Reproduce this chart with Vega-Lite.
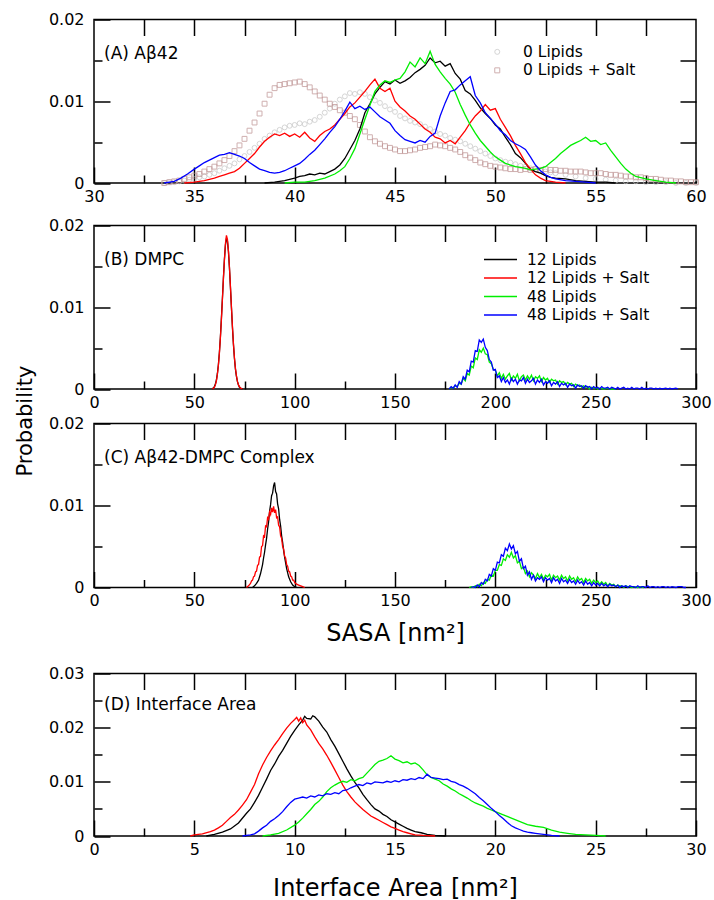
{
"$schema": "https://vega.github.io/schema/vega-lite/v6.json",
"padding": {"left": 13, "top": 10.5, "right": 5, "bottom": 2},
"config": {
  "font": "DejaVu Sans",
  "view": {"stroke": "#000000", "strokeWidth": 1.5},
  "axis": {"domain": false, "grid": false, "tickColor": "#000000", "tickWidth": 1.5, "labelColor": "#000000", "labelFontSize": 16, "labelFont": "DejaVu Sans", "titleFont": "DejaVu Sans", "titleFontSize": 24, "titleFontWeight": "normal", "titleColor": "#000000", "labelFlush": false, "labelOverlap": false},
  "legend": {"labelFont": "DejaVu Sans", "labelFontSize": 15.5, "labelColor": "#000000"},
  "text": {"font": "DejaVu Sans"}
},
"datasets": {
"a": [
{"s":"k","x":38.5,"y":0},{"s":"k","x":39,"y":0.0001},{"s":"k","x":39.5,"y":0.0003},{"s":"k","x":40,"y":0.0006},{"s":"k","x":40.25,"y":0.0008},{"s":"k","x":40.5,"y":0.0009},{"s":"k","x":40.75,"y":0.0011},{"s":"k","x":41,"y":0.001},{"s":"k","x":41.25,"y":0.0012},{"s":"k","x":41.5,"y":0.0011},{"s":"k","x":41.75,"y":0.0014},{"s":"k","x":42,"y":0.0017},{"s":"k","x":42.25,"y":0.0022},{"s":"k","x":42.5,"y":0.003},{"s":"k","x":42.75,"y":0.0041},{"s":"k","x":43,"y":0.0052},{"s":"k","x":43.25,"y":0.0066},{"s":"k","x":43.5,"y":0.0086},{"s":"k","x":43.75,"y":0.0097},{"s":"k","x":44,"y":0.0109},{"s":"k","x":44.25,"y":0.0117},{"s":"k","x":44.5,"y":0.0124},{"s":"k","x":44.75,"y":0.0121},{"s":"k","x":45,"y":0.0126},{"s":"k","x":45.25,"y":0.0122},{"s":"k","x":45.5,"y":0.0125},{"s":"k","x":45.75,"y":0.0129},{"s":"k","x":46,"y":0.0135},{"s":"k","x":46.25,"y":0.0139},{"s":"k","x":46.5,"y":0.0144},{"s":"k","x":46.75,"y":0.0153},{"s":"k","x":47,"y":0.0147},{"s":"k","x":47.25,"y":0.0149},{"s":"k","x":47.5,"y":0.0143},{"s":"k","x":47.75,"y":0.0146},{"s":"k","x":48,"y":0.0134},{"s":"k","x":48.25,"y":0.0127},{"s":"k","x":48.5,"y":0.0113},{"s":"k","x":48.75,"y":0.0109},{"s":"k","x":49,"y":0.0101},{"s":"k","x":49.25,"y":0.0092},{"s":"k","x":49.5,"y":0.0085},{"s":"k","x":49.75,"y":0.0079},{"s":"k","x":50,"y":0.0071},{"s":"k","x":50.25,"y":0.0066},{"s":"k","x":50.5,"y":0.0056},{"s":"k","x":50.75,"y":0.0047},{"s":"k","x":51,"y":0.0036},{"s":"k","x":51.25,"y":0.0031},{"s":"k","x":51.5,"y":0.0024},{"s":"k","x":51.75,"y":0.0017},{"s":"k","x":52,"y":0.0014},{"s":"k","x":52.25,"y":0.0012},{"s":"k","x":52.5,"y":0.0009},{"s":"k","x":52.75,"y":0.0007},{"s":"k","x":53,"y":0.0006},{"s":"k","x":53.5,"y":0.0005},{"s":"k","x":54,"y":0.0003},{"s":"k","x":54.5,"y":0.0002},{"s":"k","x":55,"y":0.0001},{"s":"k","x":55.5,"y":0.0001},{"s":"k","x":56,"y":0},
{"s":"r","x":34.5,"y":0},{"s":"r","x":35,"y":0.0001},{"s":"r","x":35.5,"y":0.0003},{"s":"r","x":36,"y":0.0006},{"s":"r","x":36.25,"y":0.0008},{"s":"r","x":36.5,"y":0.001},{"s":"r","x":36.75,"y":0.0012},{"s":"r","x":37,"y":0.0014},{"s":"r","x":37.25,"y":0.0018},{"s":"r","x":37.5,"y":0.0024},{"s":"r","x":37.75,"y":0.003},{"s":"r","x":38,"y":0.0036},{"s":"r","x":38.25,"y":0.0044},{"s":"r","x":38.5,"y":0.0051},{"s":"r","x":38.75,"y":0.0056},{"s":"r","x":39,"y":0.006},{"s":"r","x":39.25,"y":0.0058},{"s":"r","x":39.5,"y":0.0061},{"s":"r","x":39.75,"y":0.0057},{"s":"r","x":40,"y":0.006},{"s":"r","x":40.25,"y":0.0056},{"s":"r","x":40.5,"y":0.0062},{"s":"r","x":40.75,"y":0.0055},{"s":"r","x":41,"y":0.0051},{"s":"r","x":41.25,"y":0.0058},{"s":"r","x":41.5,"y":0.0063},{"s":"r","x":41.75,"y":0.0066},{"s":"r","x":42,"y":0.0071},{"s":"r","x":42.25,"y":0.0078},{"s":"r","x":42.5,"y":0.0085},{"s":"r","x":42.75,"y":0.0093},{"s":"r","x":43,"y":0.0098},{"s":"r","x":43.25,"y":0.0105},{"s":"r","x":43.5,"y":0.0112},{"s":"r","x":43.75,"y":0.012},{"s":"r","x":44,"y":0.0127},{"s":"r","x":44.25,"y":0.0116},{"s":"r","x":44.5,"y":0.0112},{"s":"r","x":44.75,"y":0.0116},{"s":"r","x":45,"y":0.01},{"s":"r","x":45.25,"y":0.0093},{"s":"r","x":45.5,"y":0.0088},{"s":"r","x":45.75,"y":0.0082},{"s":"r","x":46,"y":0.0078},{"s":"r","x":46.25,"y":0.0072},{"s":"r","x":46.5,"y":0.0066},{"s":"r","x":46.75,"y":0.0062},{"s":"r","x":47,"y":0.0056},{"s":"r","x":47.25,"y":0.0054},{"s":"r","x":47.5,"y":0.0049},{"s":"r","x":47.75,"y":0.0052},{"s":"r","x":48,"y":0.0048},{"s":"r","x":48.25,"y":0.0056},{"s":"r","x":48.5,"y":0.0064},{"s":"r","x":48.75,"y":0.0074},{"s":"r","x":49,"y":0.0082},{"s":"r","x":49.25,"y":0.0088},{"s":"r","x":49.5,"y":0.0096},{"s":"r","x":49.75,"y":0.0089},{"s":"r","x":50,"y":0.0091},{"s":"r","x":50.25,"y":0.0078},{"s":"r","x":50.5,"y":0.0068},{"s":"r","x":50.75,"y":0.0058},{"s":"r","x":51,"y":0.0046},{"s":"r","x":51.25,"y":0.0036},{"s":"r","x":51.5,"y":0.0025},{"s":"r","x":51.75,"y":0.0017},{"s":"r","x":52,"y":0.001},{"s":"r","x":52.25,"y":0.0006},{"s":"r","x":52.5,"y":0.0003},{"s":"r","x":53,"y":0.0001},{"s":"r","x":53.5,"y":0},
{"s":"g","x":39.5,"y":0},{"s":"g","x":40,"y":0.0001},{"s":"g","x":40.5,"y":0.0001},{"s":"g","x":41,"y":0.0003},{"s":"g","x":41.5,"y":0.0006},{"s":"g","x":42,"y":0.0011},{"s":"g","x":42.25,"y":0.0015},{"s":"g","x":42.5,"y":0.002},{"s":"g","x":42.75,"y":0.003},{"s":"g","x":43,"y":0.0042},{"s":"g","x":43.25,"y":0.006},{"s":"g","x":43.5,"y":0.0078},{"s":"g","x":43.75,"y":0.0095},{"s":"g","x":44,"y":0.0112},{"s":"g","x":44.25,"y":0.012},{"s":"g","x":44.5,"y":0.0125},{"s":"g","x":44.75,"y":0.0123},{"s":"g","x":45,"y":0.0126},{"s":"g","x":45.25,"y":0.0128},{"s":"g","x":45.5,"y":0.0136},{"s":"g","x":45.75,"y":0.0148},{"s":"g","x":46,"y":0.0142},{"s":"g","x":46.25,"y":0.0153},{"s":"g","x":46.5,"y":0.0146},{"s":"g","x":46.75,"y":0.0161},{"s":"g","x":47,"y":0.0145},{"s":"g","x":47.25,"y":0.0136},{"s":"g","x":47.5,"y":0.0128},{"s":"g","x":47.75,"y":0.0121},{"s":"g","x":48,"y":0.0111},{"s":"g","x":48.25,"y":0.0096},{"s":"g","x":48.5,"y":0.0083},{"s":"g","x":48.75,"y":0.0071},{"s":"g","x":49,"y":0.0061},{"s":"g","x":49.25,"y":0.0052},{"s":"g","x":49.5,"y":0.0045},{"s":"g","x":49.75,"y":0.0038},{"s":"g","x":50,"y":0.0032},{"s":"g","x":50.25,"y":0.0028},{"s":"g","x":50.5,"y":0.0024},{"s":"g","x":50.75,"y":0.0022},{"s":"g","x":51,"y":0.002},{"s":"g","x":51.25,"y":0.0019},{"s":"g","x":51.5,"y":0.0018},{"s":"g","x":51.75,"y":0.0016},{"s":"g","x":52,"y":0.0017},{"s":"g","x":52.25,"y":0.0018},{"s":"g","x":52.5,"y":0.002},{"s":"g","x":52.75,"y":0.0025},{"s":"g","x":53,"y":0.003},{"s":"g","x":53.25,"y":0.0036},{"s":"g","x":53.5,"y":0.0041},{"s":"g","x":53.75,"y":0.0046},{"s":"g","x":54,"y":0.0049},{"s":"g","x":54.25,"y":0.0052},{"s":"g","x":54.5,"y":0.0056},{"s":"g","x":54.75,"y":0.0051},{"s":"g","x":55,"y":0.0052},{"s":"g","x":55.25,"y":0.0047},{"s":"g","x":55.5,"y":0.0049},{"s":"g","x":55.75,"y":0.004},{"s":"g","x":56,"y":0.0032},{"s":"g","x":56.25,"y":0.0024},{"s":"g","x":56.5,"y":0.0017},{"s":"g","x":56.75,"y":0.0012},{"s":"g","x":57,"y":0.0008},{"s":"g","x":57.5,"y":0.0005},{"s":"g","x":58,"y":0.0003},{"s":"g","x":58.5,"y":0.0001},{"s":"g","x":59,"y":0},
{"s":"b","x":33.5,"y":0},{"s":"b","x":34,"y":0.0002},{"s":"b","x":34.33,"y":0.0006},{"s":"b","x":34.66,"y":0.0011},{"s":"b","x":35,"y":0.0017},{"s":"b","x":35.25,"y":0.0021},{"s":"b","x":35.5,"y":0.0025},{"s":"b","x":35.75,"y":0.0028},{"s":"b","x":36,"y":0.0031},{"s":"b","x":36.25,"y":0.0034},{"s":"b","x":36.5,"y":0.0035},{"s":"b","x":36.75,"y":0.0037},{"s":"b","x":37,"y":0.0035},{"s":"b","x":37.25,"y":0.0033},{"s":"b","x":37.5,"y":0.003},{"s":"b","x":37.75,"y":0.0025},{"s":"b","x":38,"y":0.0021},{"s":"b","x":38.25,"y":0.0017},{"s":"b","x":38.5,"y":0.0015},{"s":"b","x":38.75,"y":0.0013},{"s":"b","x":39,"y":0.0012},{"s":"b","x":39.25,"y":0.0013},{"s":"b","x":39.5,"y":0.0015},{"s":"b","x":39.75,"y":0.0018},{"s":"b","x":40,"y":0.0021},{"s":"b","x":40.25,"y":0.0024},{"s":"b","x":40.5,"y":0.0029},{"s":"b","x":40.75,"y":0.0035},{"s":"b","x":41,"y":0.004},{"s":"b","x":41.25,"y":0.0047},{"s":"b","x":41.5,"y":0.0054},{"s":"b","x":41.75,"y":0.0062},{"s":"b","x":42,"y":0.0069},{"s":"b","x":42.25,"y":0.0078},{"s":"b","x":42.5,"y":0.0088},{"s":"b","x":42.75,"y":0.0099},{"s":"b","x":43,"y":0.0091},{"s":"b","x":43.25,"y":0.0094},{"s":"b","x":43.5,"y":0.009},{"s":"b","x":43.75,"y":0.0093},{"s":"b","x":44,"y":0.0087},{"s":"b","x":44.25,"y":0.0081},{"s":"b","x":44.5,"y":0.0077},{"s":"b","x":44.75,"y":0.0073},{"s":"b","x":45,"y":0.0064},{"s":"b","x":45.25,"y":0.0058},{"s":"b","x":45.5,"y":0.0053},{"s":"b","x":45.75,"y":0.0051},{"s":"b","x":46,"y":0.0049},{"s":"b","x":46.25,"y":0.0052},{"s":"b","x":46.5,"y":0.005},{"s":"b","x":46.75,"y":0.0057},{"s":"b","x":47,"y":0.0061},{"s":"b","x":47.25,"y":0.0082},{"s":"b","x":47.5,"y":0.0098},{"s":"b","x":47.75,"y":0.0112},{"s":"b","x":48,"y":0.0114},{"s":"b","x":48.25,"y":0.012},{"s":"b","x":48.5,"y":0.0125},{"s":"b","x":48.75,"y":0.013},{"s":"b","x":49,"y":0.0107},{"s":"b","x":49.25,"y":0.0098},{"s":"b","x":49.5,"y":0.0086},{"s":"b","x":49.75,"y":0.0079},{"s":"b","x":50,"y":0.0072},{"s":"b","x":50.25,"y":0.0064},{"s":"b","x":50.5,"y":0.0059},{"s":"b","x":50.75,"y":0.0052},{"s":"b","x":51,"y":0.0048},{"s":"b","x":51.25,"y":0.0045},{"s":"b","x":51.5,"y":0.0041},{"s":"b","x":51.75,"y":0.0032},{"s":"b","x":52,"y":0.0022},{"s":"b","x":52.25,"y":0.0015},{"s":"b","x":52.5,"y":0.001},{"s":"b","x":52.75,"y":0.0007},{"s":"b","x":53,"y":0.0005},{"s":"b","x":53.5,"y":0.0003},{"s":"b","x":54,"y":0.0002},{"s":"b","x":54.5,"y":0.0001},{"s":"b","x":55,"y":0}
],
"ap": [
{"s":"c","x":33.5,"y":0},{"s":"c","x":33.75,"y":0.0001},{"s":"c","x":34,"y":0.0001},{"s":"c","x":34.25,"y":0.0002},{"s":"c","x":34.5,"y":0.0003},{"s":"c","x":34.75,"y":0.0004},{"s":"c","x":35,"y":0.0005},{"s":"c","x":35.25,"y":0.0007},{"s":"c","x":35.5,"y":0.0008},{"s":"c","x":35.75,"y":0.001},{"s":"c","x":36,"y":0.0012},{"s":"c","x":36.25,"y":0.0015},{"s":"c","x":36.5,"y":0.0018},{"s":"c","x":36.75,"y":0.0021},{"s":"c","x":37,"y":0.0024},{"s":"c","x":37.25,"y":0.0029},{"s":"c","x":37.5,"y":0.0033},{"s":"c","x":37.75,"y":0.0038},{"s":"c","x":38,"y":0.0043},{"s":"c","x":38.25,"y":0.0048},{"s":"c","x":38.5,"y":0.0054},{"s":"c","x":38.75,"y":0.0058},{"s":"c","x":39,"y":0.0062},{"s":"c","x":39.25,"y":0.0065},{"s":"c","x":39.5,"y":0.0068},{"s":"c","x":39.75,"y":0.007},{"s":"c","x":40,"y":0.0071},{"s":"c","x":40.25,"y":0.0073},{"s":"c","x":40.5,"y":0.0072},{"s":"c","x":40.75,"y":0.0075},{"s":"c","x":41,"y":0.0077},{"s":"c","x":41.25,"y":0.0081},{"s":"c","x":41.5,"y":0.0086},{"s":"c","x":41.75,"y":0.0091},{"s":"c","x":42,"y":0.0097},{"s":"c","x":42.25,"y":0.0102},{"s":"c","x":42.5,"y":0.0106},{"s":"c","x":42.75,"y":0.011},{"s":"c","x":43,"y":0.0109},{"s":"c","x":43.25,"y":0.0111},{"s":"c","x":43.5,"y":0.0109},{"s":"c","x":43.75,"y":0.0105},{"s":"c","x":44,"y":0.0101},{"s":"c","x":44.25,"y":0.0098},{"s":"c","x":44.5,"y":0.0094},{"s":"c","x":44.75,"y":0.009},{"s":"c","x":45,"y":0.0087},{"s":"c","x":45.25,"y":0.0082},{"s":"c","x":45.5,"y":0.0079},{"s":"c","x":45.75,"y":0.0076},{"s":"c","x":46,"y":0.0074},{"s":"c","x":46.25,"y":0.0072},{"s":"c","x":46.5,"y":0.0069},{"s":"c","x":46.75,"y":0.0066},{"s":"c","x":47,"y":0.0063},{"s":"c","x":47.25,"y":0.006},{"s":"c","x":47.5,"y":0.0058},{"s":"c","x":47.75,"y":0.0055},{"s":"c","x":48,"y":0.0053},{"s":"c","x":48.25,"y":0.0051},{"s":"c","x":48.5,"y":0.0048},{"s":"c","x":48.75,"y":0.0045},{"s":"c","x":49,"y":0.0042},{"s":"c","x":49.25,"y":0.0039},{"s":"c","x":49.5,"y":0.0036},{"s":"c","x":49.75,"y":0.0033},{"s":"c","x":50,"y":0.003},{"s":"c","x":50.25,"y":0.0028},{"s":"c","x":50.5,"y":0.0026},{"s":"c","x":50.75,"y":0.0025},{"s":"c","x":51,"y":0.0023},{"s":"c","x":51.25,"y":0.0021},{"s":"c","x":51.5,"y":0.002},{"s":"c","x":51.75,"y":0.0018},{"s":"c","x":52,"y":0.0017},{"s":"c","x":52.25,"y":0.0015},{"s":"c","x":52.5,"y":0.0014},{"s":"c","x":52.75,"y":0.0013},{"s":"c","x":53,"y":0.0012},{"s":"c","x":53.5,"y":0.001},{"s":"c","x":54,"y":0.0008},{"s":"c","x":54.5,"y":0.0006},{"s":"c","x":55,"y":0.0005},{"s":"c","x":55.5,"y":0.0004},{"s":"c","x":56,"y":0.0003},{"s":"c","x":56.5,"y":0.0002},{"s":"c","x":57,"y":0.0002},{"s":"c","x":57.5,"y":0.0001},{"s":"c","x":58,"y":0.0001},{"s":"c","x":58.5,"y":0.0001},{"s":"c","x":59,"y":0},{"s":"c","x":59.5,"y":0},{"s":"c","x":60,"y":0},
{"s":"q","x":33.5,"y":0},{"s":"q","x":33.75,"y":0.0001},{"s":"q","x":34,"y":0.0002},{"s":"q","x":34.25,"y":0.0003},{"s":"q","x":34.5,"y":0.0005},{"s":"q","x":34.75,"y":0.0007},{"s":"q","x":35,"y":0.0009},{"s":"q","x":35.25,"y":0.0011},{"s":"q","x":35.5,"y":0.0014},{"s":"q","x":35.75,"y":0.0017},{"s":"q","x":36,"y":0.002},{"s":"q","x":36.25,"y":0.0024},{"s":"q","x":36.5,"y":0.0028},{"s":"q","x":36.75,"y":0.0033},{"s":"q","x":37,"y":0.0039},{"s":"q","x":37.25,"y":0.0046},{"s":"q","x":37.5,"y":0.0054},{"s":"q","x":37.75,"y":0.0064},{"s":"q","x":38,"y":0.0074},{"s":"q","x":38.25,"y":0.0085},{"s":"q","x":38.5,"y":0.0097},{"s":"q","x":38.75,"y":0.0108},{"s":"q","x":39,"y":0.0116},{"s":"q","x":39.25,"y":0.012},{"s":"q","x":39.5,"y":0.0121},{"s":"q","x":39.75,"y":0.0122},{"s":"q","x":40,"y":0.0123},{"s":"q","x":40.25,"y":0.0124},{"s":"q","x":40.5,"y":0.0121},{"s":"q","x":40.75,"y":0.0117},{"s":"q","x":41,"y":0.0112},{"s":"q","x":41.25,"y":0.0107},{"s":"q","x":41.5,"y":0.0102},{"s":"q","x":41.75,"y":0.0097},{"s":"q","x":42,"y":0.0093},{"s":"q","x":42.25,"y":0.0089},{"s":"q","x":42.5,"y":0.0086},{"s":"q","x":42.75,"y":0.0082},{"s":"q","x":43,"y":0.0078},{"s":"q","x":43.25,"y":0.0071},{"s":"q","x":43.5,"y":0.0063},{"s":"q","x":43.75,"y":0.0056},{"s":"q","x":44,"y":0.0051},{"s":"q","x":44.25,"y":0.0048},{"s":"q","x":44.5,"y":0.0045},{"s":"q","x":44.75,"y":0.0043},{"s":"q","x":45,"y":0.0041},{"s":"q","x":45.25,"y":0.0039},{"s":"q","x":45.5,"y":0.0039},{"s":"q","x":45.75,"y":0.004},{"s":"q","x":46,"y":0.0041},{"s":"q","x":46.25,"y":0.0043},{"s":"q","x":46.5,"y":0.0044},{"s":"q","x":46.75,"y":0.0045},{"s":"q","x":47,"y":0.0047},{"s":"q","x":47.25,"y":0.0046},{"s":"q","x":47.5,"y":0.0045},{"s":"q","x":47.75,"y":0.0043},{"s":"q","x":48,"y":0.0041},{"s":"q","x":48.25,"y":0.0038},{"s":"q","x":48.5,"y":0.0034},{"s":"q","x":48.75,"y":0.0031},{"s":"q","x":49,"y":0.0028},{"s":"q","x":49.25,"y":0.0025},{"s":"q","x":49.5,"y":0.0023},{"s":"q","x":49.75,"y":0.0021},{"s":"q","x":50,"y":0.002},{"s":"q","x":50.25,"y":0.0019},{"s":"q","x":50.5,"y":0.0018},{"s":"q","x":50.75,"y":0.0017},{"s":"q","x":51,"y":0.0017},{"s":"q","x":51.25,"y":0.0016},{"s":"q","x":51.5,"y":0.0017},{"s":"q","x":51.75,"y":0.0016},{"s":"q","x":52,"y":0.0017},{"s":"q","x":52.25,"y":0.0016},{"s":"q","x":52.5,"y":0.0017},{"s":"q","x":52.75,"y":0.0016},{"s":"q","x":53,"y":0.0016},{"s":"q","x":53.25,"y":0.0015},{"s":"q","x":53.5,"y":0.0015},{"s":"q","x":53.75,"y":0.0014},{"s":"q","x":54,"y":0.0014},{"s":"q","x":54.25,"y":0.0014},{"s":"q","x":54.5,"y":0.0013},{"s":"q","x":54.75,"y":0.0012},{"s":"q","x":55,"y":0.0012},{"s":"q","x":55.25,"y":0.0012},{"s":"q","x":55.5,"y":0.0011},{"s":"q","x":55.75,"y":0.001},{"s":"q","x":56,"y":0.001},{"s":"q","x":56.25,"y":0.0009},{"s":"q","x":56.5,"y":0.0008},{"s":"q","x":56.75,"y":0.0008},{"s":"q","x":57,"y":0.0007},{"s":"q","x":57.25,"y":0.0007},{"s":"q","x":57.5,"y":0.0006},{"s":"q","x":57.75,"y":0.0005},{"s":"q","x":58,"y":0.0005},{"s":"q","x":58.25,"y":0.0004},{"s":"q","x":58.5,"y":0.0003},{"s":"q","x":58.75,"y":0.0003},{"s":"q","x":59,"y":0.0002},{"s":"q","x":59.25,"y":0.0002},{"s":"q","x":59.5,"y":0.0001},{"s":"q","x":59.75,"y":0.0001},{"s":"q","x":60,"y":0.0001}
],
"b": [
{"s":"k","x":59,"y":0},{"s":"k","x":60,"y":0.0003},{"s":"k","x":60.5,"y":0.0006},{"s":"k","x":61,"y":0.0011},{"s":"k","x":61.5,"y":0.0019},{"s":"k","x":62,"y":0.003},{"s":"k","x":62.5,"y":0.0045},{"s":"k","x":63,"y":0.0064},{"s":"k","x":63.5,"y":0.0087},{"s":"k","x":64,"y":0.0111},{"s":"k","x":64.5,"y":0.0136},{"s":"k","x":65,"y":0.0159},{"s":"k","x":65.5,"y":0.0176},{"s":"k","x":66,"y":0.0184},{"s":"k","x":66.5,"y":0.0181},{"s":"k","x":67,"y":0.0168},{"s":"k","x":67.5,"y":0.0148},{"s":"k","x":68,"y":0.0124},{"s":"k","x":68.5,"y":0.0099},{"s":"k","x":69,"y":0.0075},{"s":"k","x":69.5,"y":0.0054},{"s":"k","x":70,"y":0.0037},{"s":"k","x":70.5,"y":0.0024},{"s":"k","x":71,"y":0.0015},{"s":"k","x":71.5,"y":0.0009},{"s":"k","x":72,"y":0.0005},{"s":"k","x":72.5,"y":0.0002},{"s":"k","x":73,"y":0.0001},{"s":"k","x":74,"y":0},
{"s":"r","x":59,"y":0},{"s":"r","x":59.5,"y":0.0001},{"s":"r","x":60,"y":0.0002},{"s":"r","x":60.5,"y":0.0005},{"s":"r","x":61,"y":0.001},{"s":"r","x":61.5,"y":0.0018},{"s":"r","x":62,"y":0.0029},{"s":"r","x":62.5,"y":0.0044},{"s":"r","x":63,"y":0.0063},{"s":"r","x":63.5,"y":0.0085},{"s":"r","x":64,"y":0.011},{"s":"r","x":64.5,"y":0.0135},{"s":"r","x":65,"y":0.0158},{"s":"r","x":65.5,"y":0.0178},{"s":"r","x":66,"y":0.0188},{"s":"r","x":66.5,"y":0.0183},{"s":"r","x":67,"y":0.0169},{"s":"r","x":67.5,"y":0.0149},{"s":"r","x":68,"y":0.0125},{"s":"r","x":68.5,"y":0.01},{"s":"r","x":69,"y":0.0076},{"s":"r","x":69.5,"y":0.0055},{"s":"r","x":70,"y":0.0038},{"s":"r","x":70.5,"y":0.0025},{"s":"r","x":71,"y":0.0016},{"s":"r","x":71.5,"y":0.0009},{"s":"r","x":72,"y":0.0005},{"s":"r","x":72.5,"y":0.0003},{"s":"r","x":73,"y":0.0001},{"s":"r","x":74,"y":0},
{"s":"g","x":177,"y":0},{"s":"g","x":178,"y":0.0002},{"s":"g","x":179,"y":0.0001},{"s":"g","x":180,"y":0.0004},{"s":"g","x":181,"y":0.0003},{"s":"g","x":182,"y":0.0007},{"s":"g","x":183,"y":0.0006},{"s":"g","x":184,"y":0.0013},{"s":"g","x":185,"y":0.001},{"s":"g","x":186,"y":0.0019},{"s":"g","x":187,"y":0.0017},{"s":"g","x":188,"y":0.0028},{"s":"g","x":189,"y":0.0026},{"s":"g","x":190,"y":0.0038},{"s":"g","x":191,"y":0.0036},{"s":"g","x":192,"y":0.0048},{"s":"g","x":193,"y":0.0045},{"s":"g","x":194,"y":0.005},{"s":"g","x":195,"y":0.0043},{"s":"g","x":196,"y":0.0042},{"s":"g","x":197,"y":0.0033},{"s":"g","x":198,"y":0.0031},{"s":"g","x":199,"y":0.0024},{"s":"g","x":200,"y":0.0023},{"s":"g","x":201,"y":0.0016},{"s":"g","x":202,"y":0.002},{"s":"g","x":203,"y":0.0013},{"s":"g","x":204,"y":0.0018},{"s":"g","x":205,"y":0.0012},{"s":"g","x":206,"y":0.0016},{"s":"g","x":207,"y":0.0019},{"s":"g","x":208,"y":0.0011},{"s":"g","x":209,"y":0.0016},{"s":"g","x":210,"y":0.0013},{"s":"g","x":211,"y":0.0018},{"s":"g","x":212,"y":0.001},{"s":"g","x":213,"y":0.0015},{"s":"g","x":214,"y":0.0017},{"s":"g","x":215,"y":0.0011},{"s":"g","x":216,"y":0.0016},{"s":"g","x":217,"y":0.0012},{"s":"g","x":218,"y":0.0017},{"s":"g","x":219,"y":0.001},{"s":"g","x":220,"y":0.0015},{"s":"g","x":221,"y":0.0013},{"s":"g","x":222,"y":0.0016},{"s":"g","x":223,"y":0.0009},{"s":"g","x":224,"y":0.0014},{"s":"g","x":225,"y":0.0011},{"s":"g","x":226,"y":0.0013},{"s":"g","x":227,"y":0.0008},{"s":"g","x":228,"y":0.0012},{"s":"g","x":229,"y":0.001},{"s":"g","x":230,"y":0.0011},{"s":"g","x":231,"y":0.0006},{"s":"g","x":232,"y":0.001},{"s":"g","x":233,"y":0.0008},{"s":"g","x":234,"y":0.0009},{"s":"g","x":235,"y":0.0005},{"s":"g","x":236,"y":0.0008},{"s":"g","x":237,"y":0.0006},{"s":"g","x":238,"y":0.0007},{"s":"g","x":239,"y":0.0003},{"s":"g","x":240,"y":0.0006},{"s":"g","x":241,"y":0.0004},{"s":"g","x":242,"y":0.0005},{"s":"g","x":243,"y":0.0002},{"s":"g","x":244,"y":0.0004},{"s":"g","x":245,"y":0.0002},{"s":"g","x":246,"y":0.0003},{"s":"g","x":247,"y":0},{"s":"g","x":248,"y":0.0002},{"s":"g","x":249,"y":0.0001},{"s":"g","x":250,"y":0.0001},{"s":"g","x":251,"y":0},{"s":"g","x":252,"y":0.0001},{"s":"g","x":254,"y":0},{"s":"g","x":256,"y":0.0001},{"s":"g","x":257,"y":0},{"s":"g","x":260,"y":0},
{"s":"b","x":177,"y":0},{"s":"b","x":178,"y":0.0003},{"s":"b","x":179,"y":0.0001},{"s":"b","x":180,"y":0.0005},{"s":"b","x":181,"y":0.0002},{"s":"b","x":182,"y":0.0009},{"s":"b","x":183,"y":0.0006},{"s":"b","x":184,"y":0.0015},{"s":"b","x":185,"y":0.0012},{"s":"b","x":186,"y":0.0023},{"s":"b","x":187,"y":0.0021},{"s":"b","x":188,"y":0.0034},{"s":"b","x":189,"y":0.0033},{"s":"b","x":190,"y":0.0047},{"s":"b","x":191,"y":0.0046},{"s":"b","x":192,"y":0.006},{"s":"b","x":193,"y":0.0057},{"s":"b","x":194,"y":0.0061},{"s":"b","x":195,"y":0.0051},{"s":"b","x":196,"y":0.0047},{"s":"b","x":197,"y":0.0036},{"s":"b","x":198,"y":0.0033},{"s":"b","x":199,"y":0.0023},{"s":"b","x":200,"y":0.0024},{"s":"b","x":201,"y":0.0014},{"s":"b","x":202,"y":0.0016},{"s":"b","x":203,"y":0.0009},{"s":"b","x":204,"y":0.0014},{"s":"b","x":205,"y":0.0008},{"s":"b","x":206,"y":0.0011},{"s":"b","x":207,"y":0.0006},{"s":"b","x":208,"y":0.0013},{"s":"b","x":209,"y":0.0009},{"s":"b","x":210,"y":0.0012},{"s":"b","x":211,"y":0.0006},{"s":"b","x":212,"y":0.0011},{"s":"b","x":213,"y":0.001},{"s":"b","x":214,"y":0.0014},{"s":"b","x":215,"y":0.0007},{"s":"b","x":216,"y":0.0012},{"s":"b","x":217,"y":0.0008},{"s":"b","x":218,"y":0.001},{"s":"b","x":219,"y":0.0013},{"s":"b","x":220,"y":0.0006},{"s":"b","x":221,"y":0.0011},{"s":"b","x":222,"y":0.0008},{"s":"b","x":223,"y":0.0012},{"s":"b","x":224,"y":0.0005},{"s":"b","x":225,"y":0.0009},{"s":"b","x":226,"y":0.0007},{"s":"b","x":227,"y":0.001},{"s":"b","x":228,"y":0.0004},{"s":"b","x":229,"y":0.0008},{"s":"b","x":230,"y":0.0006},{"s":"b","x":231,"y":0.0009},{"s":"b","x":232,"y":0.0003},{"s":"b","x":233,"y":0.0007},{"s":"b","x":234,"y":0.0005},{"s":"b","x":235,"y":0.0007},{"s":"b","x":236,"y":0.0002},{"s":"b","x":237,"y":0.0006},{"s":"b","x":238,"y":0.0004},{"s":"b","x":239,"y":0.0005},{"s":"b","x":240,"y":0.0001},{"s":"b","x":241,"y":0.0005},{"s":"b","x":242,"y":0.0003},{"s":"b","x":243,"y":0.0004},{"s":"b","x":244,"y":0.0001},{"s":"b","x":245,"y":0.0004},{"s":"b","x":246,"y":0.0002},{"s":"b","x":247,"y":0.0003},{"s":"b","x":248,"y":0},{"s":"b","x":249,"y":0.0003},{"s":"b","x":250,"y":0.0001},{"s":"b","x":251,"y":0.0002},{"s":"b","x":252,"y":0},{"s":"b","x":253,"y":0.0003},{"s":"b","x":254,"y":0.0001},{"s":"b","x":255,"y":0.0001},{"s":"b","x":256,"y":0.0002},{"s":"b","x":257,"y":0},{"s":"b","x":258,"y":0.0002},{"s":"b","x":259,"y":0.0001},{"s":"b","x":260,"y":0},{"s":"b","x":261,"y":0.0002},{"s":"b","x":262,"y":0},{"s":"b","x":263,"y":0.0001},{"s":"b","x":264,"y":0.0002},{"s":"b","x":265,"y":0},{"s":"b","x":266,"y":0.0001},{"s":"b","x":267,"y":0},{"s":"b","x":268,"y":0.0002},{"s":"b","x":269,"y":0},{"s":"b","x":270,"y":0.0001},{"s":"b","x":271,"y":0.0001},{"s":"b","x":272,"y":0},{"s":"b","x":273,"y":0.0002},{"s":"b","x":274,"y":0},{"s":"b","x":275,"y":0.0001},{"s":"b","x":276,"y":0},{"s":"b","x":277,"y":0.0001},{"s":"b","x":278,"y":0.0001},{"s":"b","x":279,"y":0},{"s":"b","x":280,"y":0.0001},{"s":"b","x":281,"y":0},{"s":"b","x":282,"y":0.0001},{"s":"b","x":283,"y":0},{"s":"b","x":285,"y":0.0001},{"s":"b","x":286,"y":0},{"s":"b","x":287,"y":0.0001},{"s":"b","x":288,"y":0},{"s":"b","x":290,"y":0.0001},{"s":"b","x":291,"y":0}
],
"c": [
{"s":"k","x":79,"y":0},{"s":"k","x":80,"y":0.0002},{"s":"k","x":81,"y":0.0005},{"s":"k","x":82,"y":0.0009},{"s":"k","x":83,"y":0.0017},{"s":"k","x":84,"y":0.0028},{"s":"k","x":84.5,"y":0.0036},{"s":"k","x":85,"y":0.0043},{"s":"k","x":85.5,"y":0.0052},{"s":"k","x":86,"y":0.006},{"s":"k","x":86.5,"y":0.0071},{"s":"k","x":87,"y":0.008},{"s":"k","x":87.5,"y":0.0093},{"s":"k","x":88,"y":0.0101},{"s":"k","x":88.5,"y":0.0112},{"s":"k","x":89,"y":0.0115},{"s":"k","x":89.5,"y":0.0124},{"s":"k","x":90,"y":0.0128},{"s":"k","x":90.5,"y":0.0117},{"s":"k","x":91,"y":0.0114},{"s":"k","x":91.5,"y":0.0102},{"s":"k","x":92,"y":0.0096},{"s":"k","x":92.5,"y":0.0083},{"s":"k","x":93,"y":0.0075},{"s":"k","x":93.5,"y":0.0063},{"s":"k","x":94,"y":0.0055},{"s":"k","x":94.5,"y":0.0045},{"s":"k","x":95,"y":0.0037},{"s":"k","x":95.5,"y":0.003},{"s":"k","x":96,"y":0.0023},{"s":"k","x":97,"y":0.0013},{"s":"k","x":98,"y":0.0007},{"s":"k","x":99,"y":0.0003},{"s":"k","x":100,"y":0.0001},{"s":"k","x":101,"y":0},
{"s":"r","x":76,"y":0},{"s":"r","x":77,"y":0.0002},{"s":"r","x":78,"y":0.0005},{"s":"r","x":78.5,"y":0.0008},{"s":"r","x":79,"y":0.0009},{"s":"r","x":79.5,"y":0.0013},{"s":"r","x":80,"y":0.0014},{"s":"r","x":80.5,"y":0.0019},{"s":"r","x":81,"y":0.002},{"s":"r","x":81.5,"y":0.0027},{"s":"r","x":82,"y":0.0028},{"s":"r","x":82.5,"y":0.0037},{"s":"r","x":83,"y":0.0038},{"s":"r","x":83.5,"y":0.005},{"s":"r","x":84,"y":0.0051},{"s":"r","x":84.5,"y":0.0063},{"s":"r","x":85,"y":0.0062},{"s":"r","x":85.5,"y":0.0075},{"s":"r","x":86,"y":0.0074},{"s":"r","x":86.5,"y":0.0085},{"s":"r","x":87,"y":0.0083},{"s":"r","x":87.5,"y":0.0092},{"s":"r","x":88,"y":0.0089},{"s":"r","x":88.5,"y":0.0097},{"s":"r","x":89,"y":0.0092},{"s":"r","x":89.5,"y":0.0099},{"s":"r","x":90,"y":0.0091},{"s":"r","x":90.5,"y":0.0095},{"s":"r","x":91,"y":0.0085},{"s":"r","x":91.5,"y":0.0086},{"s":"r","x":92,"y":0.0076},{"s":"r","x":92.5,"y":0.0074},{"s":"r","x":93,"y":0.0063},{"s":"r","x":93.5,"y":0.006},{"s":"r","x":94,"y":0.005},{"s":"r","x":94.5,"y":0.0047},{"s":"r","x":95,"y":0.0038},{"s":"r","x":95.5,"y":0.0036},{"s":"r","x":96,"y":0.0028},{"s":"r","x":96.5,"y":0.0026},{"s":"r","x":97,"y":0.002},{"s":"r","x":97.5,"y":0.0019},{"s":"r","x":98,"y":0.0014},{"s":"r","x":98.5,"y":0.0013},{"s":"r","x":99,"y":0.0009},{"s":"r","x":99.5,"y":0.0009},{"s":"r","x":100,"y":0.0006},{"s":"r","x":101,"y":0.0004},{"s":"r","x":102,"y":0.0003},{"s":"r","x":103,"y":0.0002},{"s":"r","x":104,"y":0.0001},{"s":"r","x":105,"y":0},
{"s":"g","x":187,"y":0},{"s":"g","x":188,"y":0.0001},{"s":"g","x":189,"y":0},{"s":"g","x":190,"y":0.0002},{"s":"g","x":191,"y":0.0001},{"s":"g","x":192,"y":0.0004},{"s":"g","x":193,"y":0.0002},{"s":"g","x":194,"y":0.0006},{"s":"g","x":195,"y":0.0005},{"s":"g","x":196,"y":0.001},{"s":"g","x":197,"y":0.0009},{"s":"g","x":198,"y":0.0015},{"s":"g","x":199,"y":0.0014},{"s":"g","x":200,"y":0.0021},{"s":"g","x":201,"y":0.0021},{"s":"g","x":202,"y":0.0028},{"s":"g","x":203,"y":0.0027},{"s":"g","x":204,"y":0.0035},{"s":"g","x":205,"y":0.0033},{"s":"g","x":206,"y":0.004},{"s":"g","x":207,"y":0.0037},{"s":"g","x":208,"y":0.0043},{"s":"g","x":209,"y":0.0036},{"s":"g","x":210,"y":0.0039},{"s":"g","x":211,"y":0.003},{"s":"g","x":212,"y":0.0032},{"s":"g","x":213,"y":0.0023},{"s":"g","x":214,"y":0.0025},{"s":"g","x":215,"y":0.0017},{"s":"g","x":216,"y":0.002},{"s":"g","x":217,"y":0.0013},{"s":"g","x":218,"y":0.0018},{"s":"g","x":219,"y":0.0015},{"s":"g","x":220,"y":0.0011},{"s":"g","x":221,"y":0.0017},{"s":"g","x":222,"y":0.0012},{"s":"g","x":223,"y":0.0016},{"s":"g","x":224,"y":0.001},{"s":"g","x":225,"y":0.0015},{"s":"g","x":226,"y":0.0013},{"s":"g","x":227,"y":0.0016},{"s":"g","x":228,"y":0.0009},{"s":"g","x":229,"y":0.0015},{"s":"g","x":230,"y":0.0012},{"s":"g","x":231,"y":0.0014},{"s":"g","x":232,"y":0.0009},{"s":"g","x":233,"y":0.0015},{"s":"g","x":234,"y":0.0011},{"s":"g","x":235,"y":0.0013},{"s":"g","x":236,"y":0.0008},{"s":"g","x":237,"y":0.0014},{"s":"g","x":238,"y":0.001},{"s":"g","x":239,"y":0.0012},{"s":"g","x":240,"y":0.0007},{"s":"g","x":241,"y":0.0013},{"s":"g","x":242,"y":0.0009},{"s":"g","x":243,"y":0.0011},{"s":"g","x":244,"y":0.0006},{"s":"g","x":245,"y":0.0011},{"s":"g","x":246,"y":0.0008},{"s":"g","x":247,"y":0.001},{"s":"g","x":248,"y":0.0005},{"s":"g","x":249,"y":0.0009},{"s":"g","x":250,"y":0.0006},{"s":"g","x":251,"y":0.0008},{"s":"g","x":252,"y":0.0004},{"s":"g","x":253,"y":0.0007},{"s":"g","x":254,"y":0.0004},{"s":"g","x":255,"y":0.0006},{"s":"g","x":256,"y":0.0002},{"s":"g","x":257,"y":0.0005},{"s":"g","x":258,"y":0.0003},{"s":"g","x":259,"y":0.0004},{"s":"g","x":260,"y":0.0001},{"s":"g","x":261,"y":0.0003},{"s":"g","x":262,"y":0.0002},{"s":"g","x":263,"y":0.0002},{"s":"g","x":264,"y":0},{"s":"g","x":265,"y":0.0002},{"s":"g","x":266,"y":0.0001},{"s":"g","x":267,"y":0.0001},{"s":"g","x":268,"y":0},{"s":"g","x":269,"y":0.0001},{"s":"g","x":271,"y":0},{"s":"g","x":272,"y":0.0001},{"s":"g","x":274,"y":0},
{"s":"b","x":188,"y":0},{"s":"b","x":189,"y":0.0001},{"s":"b","x":190,"y":0},{"s":"b","x":191,"y":0.0003},{"s":"b","x":192,"y":0.0001},{"s":"b","x":193,"y":0.0006},{"s":"b","x":194,"y":0.0004},{"s":"b","x":195,"y":0.001},{"s":"b","x":196,"y":0.0008},{"s":"b","x":197,"y":0.0016},{"s":"b","x":198,"y":0.0014},{"s":"b","x":199,"y":0.0023},{"s":"b","x":200,"y":0.0021},{"s":"b","x":201,"y":0.0031},{"s":"b","x":202,"y":0.003},{"s":"b","x":203,"y":0.004},{"s":"b","x":204,"y":0.0038},{"s":"b","x":205,"y":0.0048},{"s":"b","x":206,"y":0.0045},{"s":"b","x":207,"y":0.0053},{"s":"b","x":208,"y":0.0047},{"s":"b","x":209,"y":0.0051},{"s":"b","x":210,"y":0.0041},{"s":"b","x":211,"y":0.0044},{"s":"b","x":212,"y":0.0032},{"s":"b","x":213,"y":0.0035},{"s":"b","x":214,"y":0.0023},{"s":"b","x":215,"y":0.0026},{"s":"b","x":216,"y":0.0015},{"s":"b","x":217,"y":0.0019},{"s":"b","x":218,"y":0.001},{"s":"b","x":219,"y":0.0015},{"s":"b","x":220,"y":0.0008},{"s":"b","x":221,"y":0.0012},{"s":"b","x":222,"y":0.001},{"s":"b","x":223,"y":0.0013},{"s":"b","x":224,"y":0.0007},{"s":"b","x":225,"y":0.0012},{"s":"b","x":226,"y":0.0009},{"s":"b","x":227,"y":0.0011},{"s":"b","x":228,"y":0.0006},{"s":"b","x":229,"y":0.0012},{"s":"b","x":230,"y":0.0008},{"s":"b","x":231,"y":0.001},{"s":"b","x":232,"y":0.0005},{"s":"b","x":233,"y":0.0011},{"s":"b","x":234,"y":0.0007},{"s":"b","x":235,"y":0.0009},{"s":"b","x":236,"y":0.0005},{"s":"b","x":237,"y":0.001},{"s":"b","x":238,"y":0.0006},{"s":"b","x":239,"y":0.0008},{"s":"b","x":240,"y":0.0004},{"s":"b","x":241,"y":0.0009},{"s":"b","x":242,"y":0.0005},{"s":"b","x":243,"y":0.0007},{"s":"b","x":244,"y":0.0003},{"s":"b","x":245,"y":0.0008},{"s":"b","x":246,"y":0.0004},{"s":"b","x":247,"y":0.0006},{"s":"b","x":248,"y":0.0002},{"s":"b","x":249,"y":0.0006},{"s":"b","x":250,"y":0.0003},{"s":"b","x":251,"y":0.0005},{"s":"b","x":252,"y":0.0002},{"s":"b","x":253,"y":0.0005},{"s":"b","x":254,"y":0.0002},{"s":"b","x":255,"y":0.0004},{"s":"b","x":256,"y":0.0001},{"s":"b","x":257,"y":0.0004},{"s":"b","x":258,"y":0.0002},{"s":"b","x":259,"y":0.0003},{"s":"b","x":260,"y":0.0001},{"s":"b","x":261,"y":0.0003},{"s":"b","x":262,"y":0},{"s":"b","x":263,"y":0.0002},{"s":"b","x":264,"y":0.0001},{"s":"b","x":265,"y":0.0002},{"s":"b","x":266,"y":0},{"s":"b","x":267,"y":0.0002},{"s":"b","x":268,"y":0.0001},{"s":"b","x":269,"y":0.0001},{"s":"b","x":270,"y":0},{"s":"b","x":271,"y":0.0002},{"s":"b","x":272,"y":0},{"s":"b","x":273,"y":0.0001},{"s":"b","x":274,"y":0.0001},{"s":"b","x":275,"y":0},{"s":"b","x":276,"y":0.0002},{"s":"b","x":277,"y":0},{"s":"b","x":278,"y":0.0001},{"s":"b","x":279,"y":0.0001},{"s":"b","x":280,"y":0},{"s":"b","x":281,"y":0.0001},{"s":"b","x":282,"y":0},{"s":"b","x":283,"y":0.0001},{"s":"b","x":284,"y":0.0001},{"s":"b","x":285,"y":0},{"s":"b","x":286,"y":0.0001},{"s":"b","x":287,"y":0},{"s":"b","x":288,"y":0.0001},{"s":"b","x":290,"y":0},{"s":"b","x":291,"y":0.0001},{"s":"b","x":293,"y":0.0001},{"s":"b","x":294,"y":0},{"s":"b","x":295,"y":0}
],
"d": [
{"s":"k","x":5.6,"y":0},{"s":"k","x":6,"y":0.0003},{"s":"k","x":6.4,"y":0.0007},{"s":"k","x":6.8,"y":0.0013},{"s":"k","x":7.2,"y":0.0024},{"s":"k","x":7.6,"y":0.0042},{"s":"k","x":7.8,"y":0.005},{"s":"k","x":8,"y":0.0062},{"s":"k","x":8.2,"y":0.0075},{"s":"k","x":8.4,"y":0.009},{"s":"k","x":8.6,"y":0.0105},{"s":"k","x":8.8,"y":0.0121},{"s":"k","x":9,"y":0.0133},{"s":"k","x":9.2,"y":0.0147},{"s":"k","x":9.4,"y":0.0158},{"s":"k","x":9.6,"y":0.0171},{"s":"k","x":9.8,"y":0.0184},{"s":"k","x":10,"y":0.0195},{"s":"k","x":10.2,"y":0.0205},{"s":"k","x":10.4,"y":0.0214},{"s":"k","x":10.5,"y":0.0221},{"s":"k","x":10.6,"y":0.0217},{"s":"k","x":10.8,"y":0.0216},{"s":"k","x":10.9,"y":0.0222},{"s":"k","x":11,"y":0.022},{"s":"k","x":11.2,"y":0.0212},{"s":"k","x":11.4,"y":0.0201},{"s":"k","x":11.6,"y":0.0192},{"s":"k","x":11.8,"y":0.0178},{"s":"k","x":12,"y":0.0166},{"s":"k","x":12.2,"y":0.0152},{"s":"k","x":12.4,"y":0.0138},{"s":"k","x":12.6,"y":0.0124},{"s":"k","x":12.8,"y":0.0111},{"s":"k","x":13,"y":0.0099},{"s":"k","x":13.2,"y":0.0089},{"s":"k","x":13.4,"y":0.0077},{"s":"k","x":13.6,"y":0.0067},{"s":"k","x":13.8,"y":0.0058},{"s":"k","x":14,"y":0.005},{"s":"k","x":14.2,"y":0.0046},{"s":"k","x":14.4,"y":0.004},{"s":"k","x":14.6,"y":0.0036},{"s":"k","x":14.8,"y":0.003},{"s":"k","x":15,"y":0.0026},{"s":"k","x":15.2,"y":0.0022},{"s":"k","x":15.4,"y":0.0018},{"s":"k","x":15.6,"y":0.0014},{"s":"k","x":15.8,"y":0.0011},{"s":"k","x":16,"y":0.0008},{"s":"k","x":16.3,"y":0.0006},{"s":"k","x":16.6,"y":0.0003},{"s":"k","x":17,"y":0.0001},{"s":"k","x":17.5,"y":0},
{"s":"r","x":4.8,"y":0},{"s":"r","x":5,"y":0.0002},{"s":"r","x":5.4,"y":0.0004},{"s":"r","x":5.8,"y":0.0008},{"s":"r","x":6,"y":0.0011},{"s":"r","x":6.2,"y":0.0015},{"s":"r","x":6.4,"y":0.002},{"s":"r","x":6.6,"y":0.0027},{"s":"r","x":6.8,"y":0.0034},{"s":"r","x":7,"y":0.004},{"s":"r","x":7.2,"y":0.0048},{"s":"r","x":7.4,"y":0.0057},{"s":"r","x":7.6,"y":0.0067},{"s":"r","x":7.8,"y":0.0081},{"s":"r","x":8,"y":0.0095},{"s":"r","x":8.2,"y":0.0115},{"s":"r","x":8.4,"y":0.0131},{"s":"r","x":8.6,"y":0.0145},{"s":"r","x":8.8,"y":0.0157},{"s":"r","x":9,"y":0.0168},{"s":"r","x":9.2,"y":0.0178},{"s":"r","x":9.4,"y":0.0189},{"s":"r","x":9.6,"y":0.0199},{"s":"r","x":9.8,"y":0.0208},{"s":"r","x":10,"y":0.0215},{"s":"r","x":10.1,"y":0.0219},{"s":"r","x":10.2,"y":0.0212},{"s":"r","x":10.3,"y":0.0218},{"s":"r","x":10.4,"y":0.0209},{"s":"r","x":10.5,"y":0.0214},{"s":"r","x":10.6,"y":0.0205},{"s":"r","x":10.8,"y":0.0196},{"s":"r","x":11,"y":0.0183},{"s":"r","x":11.2,"y":0.0171},{"s":"r","x":11.4,"y":0.0161},{"s":"r","x":11.6,"y":0.0149},{"s":"r","x":11.8,"y":0.0136},{"s":"r","x":12,"y":0.0122},{"s":"r","x":12.2,"y":0.0108},{"s":"r","x":12.4,"y":0.0094},{"s":"r","x":12.6,"y":0.0082},{"s":"r","x":12.8,"y":0.0072},{"s":"r","x":13,"y":0.0063},{"s":"r","x":13.2,"y":0.0056},{"s":"r","x":13.4,"y":0.0049},{"s":"r","x":13.6,"y":0.0043},{"s":"r","x":13.8,"y":0.0037},{"s":"r","x":14,"y":0.0033},{"s":"r","x":14.2,"y":0.0029},{"s":"r","x":14.4,"y":0.0025},{"s":"r","x":14.6,"y":0.0021},{"s":"r","x":14.8,"y":0.0017},{"s":"r","x":15,"y":0.0014},{"s":"r","x":15.2,"y":0.0011},{"s":"r","x":15.4,"y":0.0008},{"s":"r","x":15.6,"y":0.0006},{"s":"r","x":15.8,"y":0.0004},{"s":"r","x":16,"y":0.0002},{"s":"r","x":16.4,"y":0.0001},{"s":"r","x":17,"y":0},
{"s":"g","x":8.4,"y":0},{"s":"g","x":8.8,"y":0.0002},{"s":"g","x":9.2,"y":0.0005},{"s":"g","x":9.6,"y":0.0011},{"s":"g","x":10,"y":0.002},{"s":"g","x":10.2,"y":0.0026},{"s":"g","x":10.4,"y":0.0033},{"s":"g","x":10.6,"y":0.0041},{"s":"g","x":10.8,"y":0.0049},{"s":"g","x":11,"y":0.0058},{"s":"g","x":11.2,"y":0.0064},{"s":"g","x":11.4,"y":0.0072},{"s":"g","x":11.6,"y":0.0082},{"s":"g","x":11.8,"y":0.0089},{"s":"g","x":12,"y":0.0094},{"s":"g","x":12.2,"y":0.0098},{"s":"g","x":12.4,"y":0.0101},{"s":"g","x":12.6,"y":0.0099},{"s":"g","x":12.8,"y":0.0104},{"s":"g","x":13,"y":0.0102},{"s":"g","x":13.2,"y":0.0106},{"s":"g","x":13.4,"y":0.0108},{"s":"g","x":13.6,"y":0.0116},{"s":"g","x":13.8,"y":0.0124},{"s":"g","x":14,"y":0.0132},{"s":"g","x":14.2,"y":0.0138},{"s":"g","x":14.4,"y":0.014},{"s":"g","x":14.6,"y":0.0143},{"s":"g","x":14.8,"y":0.0148},{"s":"g","x":15,"y":0.0142},{"s":"g","x":15.2,"y":0.0139},{"s":"g","x":15.4,"y":0.0135},{"s":"g","x":15.6,"y":0.0137},{"s":"g","x":15.8,"y":0.0133},{"s":"g","x":16,"y":0.0135},{"s":"g","x":16.2,"y":0.013},{"s":"g","x":16.4,"y":0.0122},{"s":"g","x":16.6,"y":0.0113},{"s":"g","x":16.8,"y":0.0108},{"s":"g","x":17,"y":0.0105},{"s":"g","x":17.2,"y":0.0102},{"s":"g","x":17.4,"y":0.0096},{"s":"g","x":17.6,"y":0.0092},{"s":"g","x":17.8,"y":0.0087},{"s":"g","x":18,"y":0.0083},{"s":"g","x":18.2,"y":0.0078},{"s":"g","x":18.4,"y":0.0074},{"s":"g","x":18.6,"y":0.007},{"s":"g","x":18.8,"y":0.0065},{"s":"g","x":19,"y":0.0061},{"s":"g","x":19.2,"y":0.0058},{"s":"g","x":19.4,"y":0.0055},{"s":"g","x":19.6,"y":0.0051},{"s":"g","x":19.8,"y":0.0048},{"s":"g","x":20,"y":0.0045},{"s":"g","x":20.4,"y":0.0039},{"s":"g","x":20.8,"y":0.0033},{"s":"g","x":21.2,"y":0.0027},{"s":"g","x":21.6,"y":0.0021},{"s":"g","x":22,"y":0.0018},{"s":"g","x":22.4,"y":0.0016},{"s":"g","x":22.8,"y":0.0011},{"s":"g","x":23.2,"y":0.0007},{"s":"g","x":23.6,"y":0.0005},{"s":"g","x":24,"y":0.0003},{"s":"g","x":24.5,"y":0.0002},{"s":"g","x":25,"y":0.0001},{"s":"g","x":25.5,"y":0},
{"s":"b","x":7.4,"y":0},{"s":"b","x":7.8,"y":0.0002},{"s":"b","x":8,"y":0.0004},{"s":"b","x":8.2,"y":0.0009},{"s":"b","x":8.4,"y":0.0015},{"s":"b","x":8.6,"y":0.002},{"s":"b","x":8.8,"y":0.0027},{"s":"b","x":9,"y":0.0032},{"s":"b","x":9.2,"y":0.0038},{"s":"b","x":9.4,"y":0.0045},{"s":"b","x":9.6,"y":0.0054},{"s":"b","x":9.8,"y":0.0062},{"s":"b","x":10,"y":0.0068},{"s":"b","x":10.2,"y":0.007},{"s":"b","x":10.4,"y":0.0072},{"s":"b","x":10.6,"y":0.007},{"s":"b","x":10.8,"y":0.0074},{"s":"b","x":11,"y":0.0072},{"s":"b","x":11.2,"y":0.0076},{"s":"b","x":11.4,"y":0.0074},{"s":"b","x":11.6,"y":0.0078},{"s":"b","x":11.8,"y":0.0077},{"s":"b","x":12,"y":0.008},{"s":"b","x":12.2,"y":0.0078},{"s":"b","x":12.4,"y":0.0084},{"s":"b","x":12.6,"y":0.0085},{"s":"b","x":12.8,"y":0.0089},{"s":"b","x":13,"y":0.0092},{"s":"b","x":13.2,"y":0.0095},{"s":"b","x":13.4,"y":0.0093},{"s":"b","x":13.6,"y":0.0098},{"s":"b","x":13.8,"y":0.0096},{"s":"b","x":14,"y":0.01},{"s":"b","x":14.2,"y":0.0099},{"s":"b","x":14.4,"y":0.0098},{"s":"b","x":14.6,"y":0.0101},{"s":"b","x":14.8,"y":0.0099},{"s":"b","x":15,"y":0.0102},{"s":"b","x":15.2,"y":0.01},{"s":"b","x":15.4,"y":0.0104},{"s":"b","x":15.6,"y":0.0103},{"s":"b","x":15.8,"y":0.0106},{"s":"b","x":16,"y":0.0104},{"s":"b","x":16.2,"y":0.0108},{"s":"b","x":16.4,"y":0.0106},{"s":"b","x":16.6,"y":0.0114},{"s":"b","x":16.8,"y":0.0108},{"s":"b","x":17,"y":0.0107},{"s":"b","x":17.2,"y":0.0106},{"s":"b","x":17.4,"y":0.0104},{"s":"b","x":17.6,"y":0.0105},{"s":"b","x":17.8,"y":0.0101},{"s":"b","x":18,"y":0.0099},{"s":"b","x":18.2,"y":0.0095},{"s":"b","x":18.4,"y":0.0092},{"s":"b","x":18.6,"y":0.0088},{"s":"b","x":18.8,"y":0.0083},{"s":"b","x":19,"y":0.0078},{"s":"b","x":19.2,"y":0.0071},{"s":"b","x":19.4,"y":0.0065},{"s":"b","x":19.6,"y":0.0058},{"s":"b","x":19.8,"y":0.0051},{"s":"b","x":20,"y":0.0045},{"s":"b","x":20.2,"y":0.0038},{"s":"b","x":20.4,"y":0.0032},{"s":"b","x":20.6,"y":0.0025},{"s":"b","x":20.8,"y":0.0019},{"s":"b","x":21,"y":0.0015},{"s":"b","x":21.2,"y":0.0012},{"s":"b","x":21.4,"y":0.0009},{"s":"b","x":21.6,"y":0.0007},{"s":"b","x":21.8,"y":0.0006},{"s":"b","x":22,"y":0.0005},{"s":"b","x":22.4,"y":0.0003},{"s":"b","x":22.8,"y":0.0001},{"s":"b","x":23.2,"y":0}
]
},
"vconcat": [
{
  "width": 602, "height": 163.5,
  "layer": [
    {"data": {"name": "ap"}, "mark": {"type": "point", "filled": false, "size": 24, "strokeWidth": 1},
     "encoding": {
      "x": {"field": "x", "type": "quantitative", "scale": {"domain": [30, 60], "nice": false, "zero": false}, "axis": {"orient": "bottom", "values": [30,35,40,45,50,55,60], "tickSize": -16, "labelPadding": 21, "title": null}},
      "y": {"field": "y", "type": "quantitative", "scale": {"domain": [0, 0.02], "nice": false}, "axis": {"orient": "left", "values": [0,0.01,0.02], "tickSize": -16, "labelPadding": 26, "labelExpr": "datum.value == 0 ? '0' : format(datum.value, '.2f')", "title": null}},
      "color": {"field": "s", "type": "nominal", "scale": {"domain": ["c","q"], "range": ["#c4c4c4","#bc8f8f"]}, "legend": {"orient": "none", "legendX": 395.5, "legendY": 24.6, "title": null, "symbolSize": 25, "symbolStrokeWidth": 1, "labelOffset": 18, "rowPadding": 1.5, "padding": 0, "labelExpr": "datum.label == 'c' ? '0 Lipids' : '0 Lipids + Salt'"}},
      "shape": {"field": "s", "type": "nominal", "scale": {"domain": ["c","q"], "range": ["circle","square"]}, "legend": {"orient": "none", "legendX": 395.5, "legendY": 24.6, "title": null, "symbolSize": 25, "symbolStrokeWidth": 1, "labelOffset": 18, "rowPadding": 1.5, "padding": 0, "labelExpr": "datum.label == 'c' ? '0 Lipids' : '0 Lipids + Salt'"}}
     }},
    {"data": {"name": "a"}, "mark": {"type": "line", "strokeWidth": 1.3},
     "encoding": {
      "x": {"field": "x", "type": "quantitative", "scale": {"domain": [30, 60], "nice": false, "zero": false}, "axis": {"orient": "bottom", "values": [32.5,37.5,42.5,47.5,52.5,57.5], "tickSize": -8, "labels": false, "title": null}},
      "y": {"field": "y", "type": "quantitative", "scale": {"domain": [0, 0.02], "nice": false}, "axis": {"orient": "left", "values": [0.005,0.015], "tickSize": -8, "labels": false, "title": null}},
      "stroke": {"field": "s", "type": "nominal", "scale": {"domain": ["k","r","g","b"], "range": ["#000000","#ff0000","#00ee00","#0000ff"]}, "legend": null}
     }},
    {"data": {"values": [{"t": "(A) Aβ42"}]}, "mark": {"type": "text", "align": "left", "baseline": "middle", "fontSize": 17, "color": "#000000"},
     "encoding": {
      "x": {"datum": 30.5, "type": "quantitative", "scale": {"domain": [30, 60], "nice": false, "zero": false}, "axis": {"orient": "top", "values": [32.5,35,37.5,40,42.5,45,47.5,50,52.5,55,57.5], "tickSize": -16, "labels": false, "title": null}},
      "y": {"datum": 0.0158, "type": "quantitative", "scale": {"domain": [0, 0.02], "nice": false}, "axis": {"orient": "right", "values": [0.005,0.01,0.015], "tickSize": -16, "labels": false, "title": null}},
      "text": {"field": "t"}
     }}
  ],
  "resolve": {"scale": {"x": "independent", "y": "independent"}, "axis": {"x": "independent", "y": "independent"}}
},
{"width": 602, "height": 41.6, "data": {"values": []}, "mark": "point", "view": {"stroke": null}},
{
  "width": 602, "height": 163.5,
  "data": {"name": "b"},
  "layer": [
    {"transform": [{"filter": "datum.s == 'k' || datum.s == 'r'"}], "mark": {"type": "line", "strokeWidth": 1.3},
     "encoding": {
      "x": {"field": "x", "type": "quantitative", "scale": {"domain": [0, 300], "nice": false, "zero": false}, "axis": {"orient": "bottom", "values": [0,50,100,150,200,250,300], "tickSize": -16, "labelPadding": 21, "title": null}},
      "y": {"field": "y", "type": "quantitative", "scale": {"domain": [0, 0.02], "nice": false}, "axis": {"orient": "left", "values": [0,0.01,0.02], "tickSize": -16, "labelPadding": 26, "labelExpr": "datum.value == 0 ? '0' : format(datum.value, '.2f')", "title": "Probability", "titleFontSize": 21, "titleX": -69, "titleY": 195, "titleAngle": -90, "titleAlign": "center", "titleBaseline": "middle"}},
      "stroke": {"field": "s", "type": "nominal", "scale": {"domain": ["k","r","g","b"], "range": ["#000000","#ff0000","#00ee00","#0000ff"]}, "legend": {"orient": "none", "legendX": 398, "legendY": 25.5, "title": null, "symbolType": "M-2.2,0H2.2", "symbolSize": 225, "symbolStrokeWidth": 1.5, "labelOffset": 18, "rowPadding": 1.5, "padding": 0, "labelExpr": "datum.label == 'k' ? '12 Lipids' : datum.label == 'r' ? '12 Lipids + Salt' : datum.label == 'g' ? '48 Lipids' : '48 Lipids + Salt'"}}
     }},
    {"transform": [{"filter": "datum.s == 'g' || datum.s == 'b'"}], "mark": {"type": "line", "strokeWidth": 1.3},
     "encoding": {
      "x": {"field": "x", "type": "quantitative", "scale": {"domain": [0, 300], "nice": false, "zero": false}, "axis": {"orient": "bottom", "values": [25,75,125,175,225,275], "tickSize": -8, "labels": false, "title": null}},
      "y": {"field": "y", "type": "quantitative", "scale": {"domain": [0, 0.02], "nice": false}, "axis": {"orient": "left", "values": [0.005,0.015], "tickSize": -8, "labels": false, "title": null}},
      "stroke": {"field": "s", "type": "nominal", "scale": {"domain": ["k","r","g","b"], "range": ["#000000","#ff0000","#00ee00","#0000ff"]}, "legend": {"orient": "none", "legendX": 398, "legendY": 25.5, "title": null, "symbolType": "M-2.2,0H2.2", "symbolSize": 225, "symbolStrokeWidth": 1.5, "labelOffset": 18, "rowPadding": 1.5, "padding": 0, "labelExpr": "datum.label == 'k' ? '12 Lipids' : datum.label == 'r' ? '12 Lipids + Salt' : datum.label == 'g' ? '48 Lipids' : '48 Lipids + Salt'"}}
     }},
    {"data": {"values": [{"t": "(B) DMPC"}]}, "mark": {"type": "text", "align": "left", "baseline": "middle", "fontSize": 17, "color": "#000000"},
     "encoding": {
      "x": {"datum": 5, "type": "quantitative", "scale": {"domain": [0, 300], "nice": false, "zero": false}, "axis": {"orient": "top", "values": [25,50,75,100,125,150,175,200,225,250,275], "tickSize": -16, "labels": false, "title": null}},
      "y": {"datum": 0.0158, "type": "quantitative", "scale": {"domain": [0, 0.02], "nice": false}, "axis": {"orient": "right", "values": [0.005,0.01,0.015], "tickSize": -16, "labels": false, "title": null}},
      "text": {"field": "t"}
     }}
  ],
  "resolve": {"scale": {"x": "independent", "y": "independent"}, "axis": {"x": "independent", "y": "independent"}}
},
{"width": 602, "height": 33.6, "data": {"values": []}, "mark": "point", "view": {"stroke": null}},
{
  "width": 602, "height": 164,
  "data": {"name": "c"},
  "layer": [
    {"transform": [{"filter": "datum.s == 'k' || datum.s == 'r'"}], "mark": {"type": "line", "strokeWidth": 1.3},
     "encoding": {
      "x": {"field": "x", "type": "quantitative", "scale": {"domain": [0, 300], "nice": false, "zero": false}, "axis": {"orient": "bottom", "values": [0,50,100,150,200,250,300], "tickSize": -16, "labelPadding": 21, "title": "SASA [nm²]", "titleY": 46, "titleBaseline": "middle"}},
      "y": {"field": "y", "type": "quantitative", "scale": {"domain": [0, 0.02], "nice": false}, "axis": {"orient": "left", "values": [0,0.01,0.02], "tickSize": -16, "labelPadding": 26, "labelExpr": "datum.value == 0 ? '0' : format(datum.value, '.2f')", "title": null}},
      "stroke": {"field": "s", "type": "nominal", "scale": {"domain": ["k","r","g","b"], "range": ["#000000","#ff0000","#00ee00","#0000ff"]}, "legend": null}
     }},
    {"transform": [{"filter": "datum.s == 'g' || datum.s == 'b'"}], "mark": {"type": "line", "strokeWidth": 1.3},
     "encoding": {
      "x": {"field": "x", "type": "quantitative", "scale": {"domain": [0, 300], "nice": false, "zero": false}, "axis": {"orient": "bottom", "values": [25,75,125,175,225,275], "tickSize": -8, "labels": false, "title": null}},
      "y": {"field": "y", "type": "quantitative", "scale": {"domain": [0, 0.02], "nice": false}, "axis": {"orient": "left", "values": [0.005,0.015], "tickSize": -8, "labels": false, "title": null}},
      "stroke": {"field": "s", "type": "nominal", "scale": {"domain": ["k","r","g","b"], "range": ["#000000","#ff0000","#00ee00","#0000ff"]}, "legend": null}
     }},
    {"data": {"values": [{"t": "(C) Aβ42-DMPC Complex"}]}, "mark": {"type": "text", "align": "left", "baseline": "middle", "fontSize": 17, "color": "#000000"},
     "encoding": {
      "x": {"datum": 5, "type": "quantitative", "scale": {"domain": [0, 300], "nice": false, "zero": false}, "axis": {"orient": "top", "values": [25,50,75,100,125,150,175,200,225,250,275], "tickSize": -16, "labels": false, "title": null}},
      "y": {"datum": 0.0158, "type": "quantitative", "scale": {"domain": [0, 0.02], "nice": false}, "axis": {"orient": "right", "values": [0.005,0.01,0.015], "tickSize": -16, "labels": false, "title": null}},
      "text": {"field": "t"}
     }}
  ],
  "resolve": {"scale": {"x": "independent", "y": "independent"}, "axis": {"x": "independent", "y": "independent"}}
},
{"width": 602, "height": 85.7, "data": {"values": []}, "mark": "point", "view": {"stroke": null}},
{
  "width": 602, "height": 162.5,
  "data": {"name": "d"},
  "layer": [
    {"transform": [{"filter": "datum.s == 'k' || datum.s == 'r'"}], "mark": {"type": "line", "strokeWidth": 1.3},
     "encoding": {
      "x": {"field": "x", "type": "quantitative", "scale": {"domain": [0, 30], "nice": false, "zero": false}, "axis": {"orient": "bottom", "values": [0,5,10,15,20,25,30], "tickSize": -16, "labelPadding": 21, "title": "Interface Area [nm²]", "titleY": 52, "titleBaseline": "middle"}},
      "y": {"field": "y", "type": "quantitative", "scale": {"domain": [0, 0.03], "nice": false}, "axis": {"orient": "left", "values": [0,0.01,0.02,0.03], "tickSize": -16, "labelPadding": 26, "labelExpr": "datum.value == 0 ? '0' : format(datum.value, '.2f')", "title": null}},
      "stroke": {"field": "s", "type": "nominal", "scale": {"domain": ["k","r","g","b"], "range": ["#000000","#ff0000","#00ee00","#0000ff"]}, "legend": null}
     }},
    {"transform": [{"filter": "datum.s == 'g' || datum.s == 'b'"}], "mark": {"type": "line", "strokeWidth": 1.3},
     "encoding": {
      "x": {"field": "x", "type": "quantitative", "scale": {"domain": [0, 30], "nice": false, "zero": false}, "axis": {"orient": "bottom", "values": [2.5,7.5,12.5,17.5,22.5,27.5], "tickSize": -8, "labels": false, "title": null}},
      "y": {"field": "y", "type": "quantitative", "scale": {"domain": [0, 0.03], "nice": false}, "axis": {"orient": "left", "values": [0.005,0.015,0.025], "tickSize": -8, "labels": false, "title": null}},
      "stroke": {"field": "s", "type": "nominal", "scale": {"domain": ["k","r","g","b"], "range": ["#000000","#ff0000","#00ee00","#0000ff"]}, "legend": null}
     }},
    {"data": {"values": [{"t": "(D) Interface Area"}]}, "mark": {"type": "text", "align": "left", "baseline": "middle", "fontSize": 17, "color": "#000000"},
     "encoding": {
      "x": {"datum": 0.5, "type": "quantitative", "scale": {"domain": [0, 30], "nice": false, "zero": false}, "axis": {"orient": "top", "values": [2.5,5,7.5,10,12.5,15,17.5,20,22.5,25,27.5], "tickSize": -16, "labels": false, "title": null}},
      "y": {"datum": 0.0241, "type": "quantitative", "scale": {"domain": [0, 0.03], "nice": false}, "axis": {"orient": "right", "values": [0.005,0.01,0.015,0.02,0.025], "tickSize": -16, "labels": false, "title": null}},
      "text": {"field": "t"}
     }}
  ],
  "resolve": {"scale": {"x": "independent", "y": "independent"}, "axis": {"x": "independent", "y": "independent"}}
}
],
"spacing": 0,
"bounds": "flush",
"resolve": {"scale": {"stroke": "independent", "color": "independent", "shape": "independent"}, "legend": {"stroke": "independent", "color": "independent", "shape": "independent"}}
}
